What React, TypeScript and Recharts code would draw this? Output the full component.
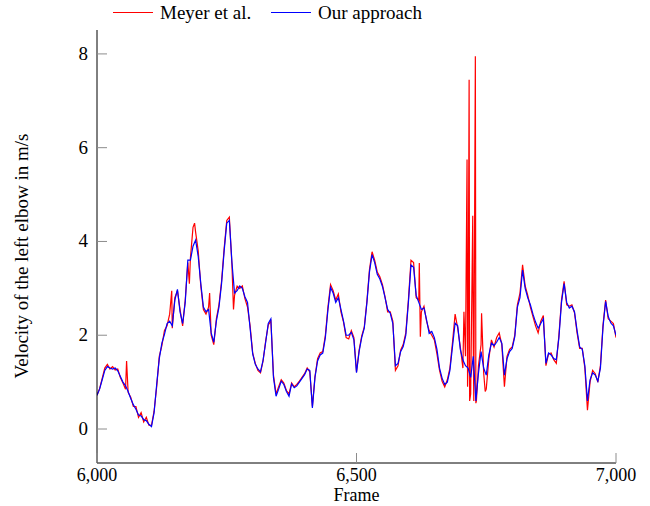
import { LineChart, Line, XAxis, YAxis } from "recharts"

document.body.style.margin = "0"

// frames are sampled every 5 frames from 6000 to 7000
const FRAME_START = 6000
const FRAME_STEP = 5

const ourApproach = [
  0.72, 0.85, 1.05, 1.25, 1.33, 1.30, 1.28, 1.30, 1.24, 1.12,
  1.00, 0.92, 0.80, 0.65, 0.52, 0.42, 0.30, 0.28, 0.20, 0.18,
  0.10, 0.05, 0.35, 0.95, 1.50, 1.83, 2.02, 2.25, 2.30, 2.20,
  2.75, 2.98, 2.50, 2.25, 2.70, 3.60, 3.60, 3.90, 4.03, 3.68,
  3.10, 2.60, 2.50, 2.55, 2.05, 1.85, 2.30, 2.60, 3.10, 3.80,
  4.39, 4.45, 3.55, 2.90, 2.95, 3.05, 3.00, 2.82, 2.70, 2.15,
  1.60, 1.38, 1.28, 1.22, 1.47, 1.85, 2.25, 2.35, 1.10, 0.70,
  0.85, 1.02, 0.95, 0.80, 0.70, 0.96, 0.88, 0.92, 1.00, 1.08,
  1.16, 1.28, 1.25, 0.45, 1.10, 1.45, 1.58, 1.62, 1.95, 2.55,
  3.02, 2.90, 2.70, 2.80, 2.55, 2.30, 2.00, 2.00, 2.06, 1.90,
  1.20, 1.65, 1.95, 2.15, 2.69, 3.35, 3.72, 3.55, 3.30, 3.20,
  3.04, 2.80, 2.55, 2.47, 2.25, 1.35, 1.40, 1.65, 1.76, 2.00,
  2.70, 3.50, 3.45, 2.85, 2.70, 2.55, 2.58, 2.33, 2.04, 2.08,
  1.95, 1.70, 1.30, 1.08, 0.95, 1.00, 1.25, 1.76, 2.26, 2.20,
  1.70, 1.47, 1.35, 1.30, 1.10, 1.55, 0.60, 1.19, 1.65, 1.30,
  1.15, 1.58, 1.83, 1.78, 1.85, 1.95, 1.83, 1.15, 1.50, 1.65,
  1.72, 1.97, 2.60, 2.80, 3.39, 3.00, 2.80, 2.65, 2.45, 2.28,
  2.15, 2.25, 2.35, 1.40, 1.62, 1.58, 1.50, 1.48, 1.95, 2.70,
  3.10, 2.70, 2.58, 2.62, 2.50, 2.10, 1.75, 1.70, 1.35, 0.60,
  1.05, 1.20, 1.15, 1.02, 1.30, 2.18, 2.72, 2.40, 2.26, 2.20,
  2.00,
]

const meyer = [
  0.72, 0.86, 1.08, 1.30, 1.38, 1.28, 1.33, 1.26, 1.28, 1.10,
  0.98, 0.85, 0.78, 0.68, 0.48, 0.48, 0.25, 0.35, 0.15, 0.25,
  0.08, 0.08, 0.38, 0.90, 1.55, 1.78, 2.10, 2.20, 2.45, 2.15,
  2.80, 2.95, 2.55, 2.20, 2.75, 3.55, 3.65, 4.30, 4.20, 3.80,
  3.05, 2.55, 2.45, 2.60, 2.00, 1.80, 2.35, 2.65, 3.15, 3.85,
  4.45, 4.52, 3.50, 2.85, 3.05, 3.00, 3.05, 2.78, 2.60, 2.20,
  1.62, 1.40, 1.25, 1.20, 1.45, 1.88, 2.22, 2.30, 1.15, 0.75,
  0.90, 1.05, 0.98, 0.82, 0.75, 0.98, 0.90, 0.95, 1.02, 1.10,
  1.18, 1.30, 1.22, 0.48, 1.12, 1.50, 1.62, 1.65, 2.00, 2.60,
  3.08, 2.95, 2.75, 2.88, 2.50, 2.28, 1.95, 1.92, 2.10, 1.95,
  1.22, 1.68, 1.98, 2.18, 2.72, 3.40, 3.78, 3.60, 3.35, 3.25,
  3.08, 2.82, 2.50, 2.50, 2.30, 1.25, 1.35, 1.68, 1.80, 2.05,
  2.75, 3.60, 3.55, 2.80, 2.75, 2.50, 2.62, 2.30, 2.10, 2.00,
  1.90, 1.60, 1.25, 1.02, 0.90, 1.05, 1.30, 1.85, 2.45, 2.15,
  1.75, 1.30, 1.55, 1.40, 0.75, 1.80, 0.55, 1.35, 1.80, 1.20,
  0.85, 1.50, 1.90, 1.75, 1.95, 2.05, 1.80, 0.90, 1.55, 1.70,
  1.75, 2.00, 2.65, 2.90, 3.50, 3.05, 2.85, 2.60, 2.40, 2.20,
  2.05, 2.30, 2.42, 1.35, 1.60, 1.62, 1.48, 1.40, 2.00, 2.75,
  3.15, 2.65, 2.62, 2.65, 2.48, 2.05, 1.72, 1.72, 1.30, 0.40,
  1.00, 1.25, 1.18, 1.00, 1.35, 2.22, 2.75, 2.35, 2.30, 2.25,
  1.95,
]

// single-frame outliers of Meyer et al. that fall between the 5-frame samples
const meyerSpikeFrames = [6057, 6144, 6178, 6188, 6217, 6263, 6621, 6623, 6707, 6713, 6714, 6717, 6718, 6724, 6726, 6729, 6731, 6741, 6748]
const meyerSpikeValues = [1.45, 2.95, 3.1, 4.39, 2.9, 2.55, 3.54, 1.97, 2.5, 5.75, 0.9, 7.45, 0.6, 4.55, 0.6, 7.95, 0.6, 2.47, 0.8]

const xTicks = [6000, 6500, 7000]
const yTicks = [0, 2, 4, 6, 8]

const ourData = ourApproach.map((v, i) => ({ frame: FRAME_START + i * FRAME_STEP, v }))
const meyerData = [
  ...meyer.map((v, i) => ({ frame: FRAME_START + i * FRAME_STEP, v })),
  ...meyerSpikeFrames.map((f, i) => ({ frame: f, v: meyerSpikeValues[i] })),
].sort((a, b) => a.frame - b.frame)

const FONT = "'Liberation Serif', 'Times New Roman', serif"
const TICK_GRAY = "#8c8c8c"
const LEFT = 97
const RIGHT = 616
const TOP = 30
const BOTTOM = 463
const TICK_LEN = 10

const fmt = (n: number) => n.toLocaleString("en-US")
const textStyle = { fontFamily: FONT, fontSize: 19 }
const smallText = { fontFamily: FONT, fontSize: 18 }

function BottomTick(props: any) {
  const { x, payload } = props
  return (
    <g>
      <line x1={x} x2={x} y1={BOTTOM} y2={BOTTOM - TICK_LEN} stroke={TICK_GRAY} strokeWidth={1} />
      <text x={x} y={BOTTOM + 18} textAnchor="middle" style={smallText} fill="#000">
        {fmt(payload.value)}
      </text>
    </g>
  )
}

function TopTick(props: any) {
  const { x } = props
  return <line x1={x} x2={x} y1={TOP} y2={TOP + TICK_LEN} stroke={TICK_GRAY} strokeWidth={1} />
}

function LeftTick(props: any) {
  const { y, payload } = props
  return (
    <g>
      <line x1={LEFT} x2={LEFT + TICK_LEN} y1={y} y2={y} stroke={TICK_GRAY} strokeWidth={1} />
      <text x={LEFT - 9} y={y + 6} textAnchor="end" style={textStyle} fill="#000">
        {payload.value}
      </text>
    </g>
  )
}

function RightTick(props: any) {
  const { y } = props
  return <line x1={RIGHT} x2={RIGHT - TICK_LEN} y1={y} y2={y} stroke={TICK_GRAY} strokeWidth={1} />
}

function XTitle() {
  return (
    <text x={(LEFT + RIGHT) / 2} y={501} textAnchor="middle" style={smallText} fill="#000">
      Frame
    </text>
  )
}

function YTitle() {
  const cx = 21
  const cy = 256
  return (
    <text
      x={cx}
      y={cy}
      transform={`rotate(-90 ${cx} ${cy})`}
      textAnchor="middle"
      dominantBaseline="central"
      style={textStyle}
      fill="#000"
    >
      Velocity of the left elbow in m/s
    </text>
  )
}

export default function App() {
  const legendText = { position: "absolute" as const, top: 2, fontFamily: FONT, fontSize: 19, lineHeight: "22px", color: "#000" }
  return (
    <div style={{ position: "relative", width: 650, height: 506, background: "#fff" }}>
      <LineChart width={650} height={506} margin={{ top: TOP, right: 650 - RIGHT, bottom: 0, left: 0 }}>
        <XAxis
          xAxisId="bottom"
          dataKey="frame"
          type="number"
          domain={[6000, 7000]}
          ticks={xTicks}
          interval={0}
          height={506 - BOTTOM}
          tickSize={0}
          tickMargin={0}
          tickLine={false}
          axisLine={{ stroke: "#000", strokeWidth: 1 }}
          tick={<BottomTick />}
          label={<XTitle />}
          allowDataOverflow
        />
        <XAxis
          xAxisId="top"
          orientation="top"
          dataKey="frame"
          type="number"
          domain={[6000, 7000]}
          ticks={xTicks}
          interval={0}
          height={0}
          tickSize={0}
          tickLine={false}
          axisLine={{ stroke: "#000", strokeWidth: 1 }}
          tick={<TopTick />}
          allowDataOverflow
        />
        <YAxis
          yAxisId="left"
          type="number"
          domain={[-0.725, 8.51]}
          ticks={yTicks}
          interval={0}
          width={LEFT}
          tickSize={0}
          tickMargin={0}
          tickLine={false}
          axisLine={{ stroke: "#000", strokeWidth: 1 }}
          tick={<LeftTick />}
          label={<YTitle />}
          allowDataOverflow
        />
        <YAxis
          yAxisId="right"
          orientation="right"
          type="number"
          domain={[-0.725, 8.51]}
          ticks={yTicks}
          interval={0}
          width={0}
          tickSize={0}
          tickLine={false}
          axisLine={{ stroke: "#000", strokeWidth: 1 }}
          tick={<RightTick />}
          allowDataOverflow
        />
        <Line
          xAxisId="bottom"
          yAxisId="left"
          data={meyerData}
          dataKey="v"
          type="linear"
          stroke="#ff0000"
          strokeWidth={1.2}
          dot={false}
          isAnimationActive={false}
        />
        <Line
          xAxisId="bottom"
          yAxisId="left"
          data={ourData}
          dataKey="v"
          type="linear"
          stroke="#0000ff"
          strokeWidth={1.2}
          dot={false}
          isAnimationActive={false}
        />
      </LineChart>
      <div style={{ position: "absolute", left: 113, top: 12, width: 40, height: 0, borderTop: "1.3px solid #ff0000" }} />
      <span style={{ ...legendText, left: 160 }}>Meyer et al.</span>
      <div style={{ position: "absolute", left: 271, top: 12, width: 40, height: 0, borderTop: "1.3px solid #0000ff" }} />
      <span style={{ ...legendText, left: 318 }}>Our approach</span>
    </div>
  )
}
